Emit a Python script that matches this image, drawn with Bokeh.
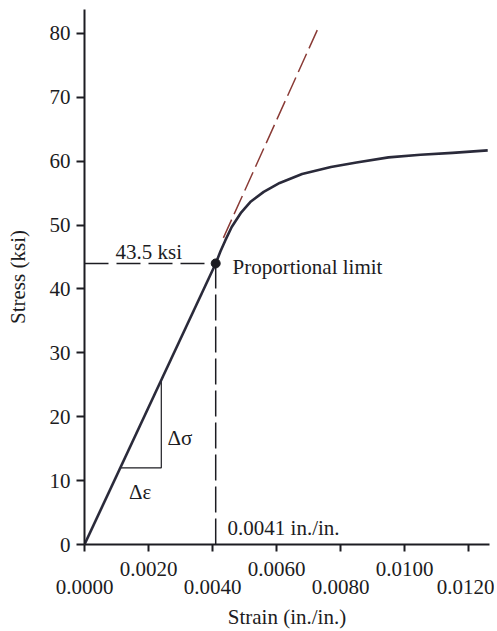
from bokeh.plotting import figure
from bokeh.models import LinearAxis, FixedTicker, Range1d, PrintfTickFormatter
from bokeh.core.properties import value
from bokeh.embed import file_html
from bokeh.resources import INLINE

# ---- data ----
stress_ticks = [0, 10, 20, 30, 40, 50, 60, 70, 80]
strain_ticks_upper = [0.0020, 0.0060, 0.0100]
strain_ticks_lower = [0.0000, 0.0040, 0.0080, 0.0120]

elastic_strain = [0.0, 0.0041]
elastic_stress = [0.0, 44.0]

plastic_strain = [0.0041, 0.00425, 0.0044, 0.0046, 0.0049, 0.0052, 0.0056,
                  0.0061, 0.0068, 0.0077, 0.0085, 0.0095, 0.0105, 0.0115,
                  0.0126]
plastic_stress = [44.0, 45.9, 47.6, 49.7, 52.0, 53.7, 55.2,
                  56.6, 58.0, 59.1, 59.8, 60.6, 61.0, 61.3,
                  61.7]

tangent_strain = [0.00434, 0.00728]
tangent_stress = [48.0, 80.6]

prop_strain = 0.0041
prop_stress = 44.0

tri_strain = [0.00112, 0.0024, 0.0024]
tri_stress = [12.0, 12.0, 25.8]

FONT = "Liberation Serif"
FS = "21px"
INK = "#1c1c22"

p = figure(width=494, height=631,
           x_range=Range1d(0, 0.012656), y_range=Range1d(0, 83.75),
           output_backend="svg", toolbar_location=None,
           x_axis_location=None, y_axis_location=None,
           min_border_left=84, min_border_right=5,
           min_border_top=9, min_border_bottom=86)
p.outline_line_color = None
p.xgrid.visible = False
p.ygrid.visible = False
p.background_fill_color = "white"
p.border_fill_color = "white"

# y axis
yaxis = LinearAxis(ticker=FixedTicker(ticks=stress_ticks),
                   axis_label="Stress (ksi)")
yaxis.axis_line_width = 2
yaxis.axis_line_color = INK
yaxis.major_tick_line_width = 2
yaxis.major_tick_line_color = INK
yaxis.major_tick_out = 8
yaxis.major_tick_in = 0
yaxis.minor_tick_line_color = None
yaxis.major_label_standoff = 6
yaxis.major_label_text_font = FONT
yaxis.major_label_text_font_size = FS
yaxis.major_label_text_color = INK
yaxis.axis_label_text_font = FONT
yaxis.axis_label_text_font_size = FS
yaxis.axis_label_text_font_style = "normal"
yaxis.axis_label_text_color = INK
yaxis.axis_label_standoff = 17
p.add_layout(yaxis, "left")

# x axis (upper row of labels, all ticks)
xaxis1 = LinearAxis(ticker=FixedTicker(ticks=strain_ticks_upper,
                                       minor_ticks=strain_ticks_lower),
                    formatter=PrintfTickFormatter(format="%.4f"))
xaxis1.axis_line_width = 2
xaxis1.axis_line_color = INK
xaxis1.major_tick_line_width = 2
xaxis1.major_tick_line_color = INK
xaxis1.major_tick_out = 7
xaxis1.major_tick_in = 0
xaxis1.minor_tick_line_width = 2
xaxis1.minor_tick_line_color = INK
xaxis1.minor_tick_out = 7
xaxis1.minor_tick_in = 0
xaxis1.major_label_standoff = 10
xaxis1.major_label_text_font = FONT
xaxis1.major_label_text_font_size = FS
xaxis1.major_label_text_color = INK
p.add_layout(xaxis1, "below")

# x axis (lower row of labels)
xaxis2 = LinearAxis(ticker=FixedTicker(ticks=strain_ticks_lower),
                    formatter=PrintfTickFormatter(format="%.4f"),
                    axis_label="Strain (in./in.)")
xaxis2.axis_line_color = None
xaxis2.major_tick_line_color = None
xaxis2.minor_tick_line_color = None
xaxis2.major_tick_out = 0
xaxis2.major_tick_in = 0
xaxis2.major_label_standoff = 1
xaxis2.major_label_text_font = FONT
xaxis2.major_label_text_font_size = FS
xaxis2.major_label_text_color = INK
xaxis2.axis_label_text_font = FONT
xaxis2.axis_label_text_font_size = FS
xaxis2.axis_label_text_font_style = "normal"
xaxis2.axis_label_text_color = INK
xaxis2.axis_label_standoff = 8
p.add_layout(xaxis2, "below")

# reference dashed lines to the proportional limit
p.line([0, prop_strain], [prop_stress, prop_stress], line_color=INK,
       line_width=1.5, line_dash="24 8")
p.line([prop_strain, prop_strain], [0, prop_stress], line_color=INK,
       line_width=1.5, line_dash="26 6")

# extension of the elastic line
p.line(tangent_strain, tangent_stress, line_color="#8a3b36",
       line_width=1.5, line_dash="20 6")

# slope triangle
p.line(tri_strain, tri_stress, line_color=INK, line_width=1.2)

# stress-strain curve
p.line(elastic_strain, elastic_stress, line_color="#2a2a3a", line_width=2.6)
p.line(plastic_strain, plastic_stress, line_color="#2a2a3a", line_width=2.6,
       line_join="round")

p.scatter([prop_strain], [prop_stress], size=9, fill_color=INK,
          line_color=INK)

# annotations
def label(x, y, s):
    p.text(x=[x], y=[y], text=[s], text_font=value(FONT),
           text_font_size=FS, text_color=INK, text_align="left",
           text_baseline="alphabetic")

label(0.00097, 45.8, "43.5 ksi")
label(0.004625, 43.4, "Proportional limit")
label(0.00259, 16.6, "Δσ")
label(0.00139, 8.2, "Δε")
label(0.00447, 2.66, "0.0041 in./in.")

open("out.html", "w").write(file_html(p, INLINE))
